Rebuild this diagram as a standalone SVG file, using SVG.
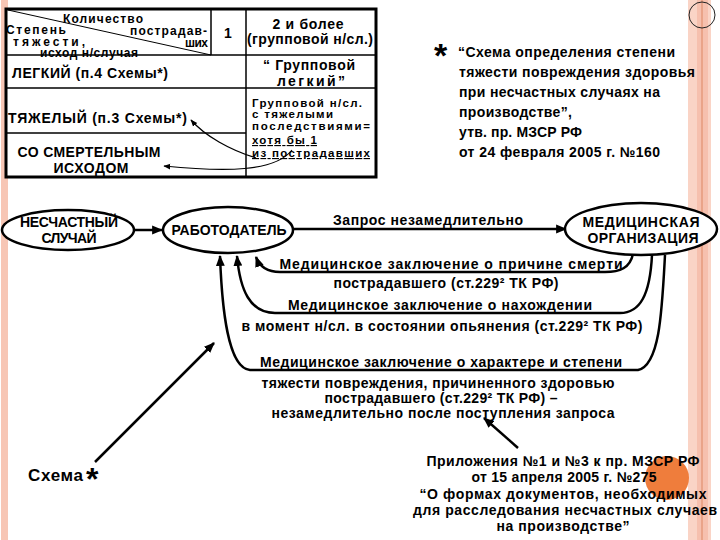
<svg xmlns="http://www.w3.org/2000/svg" width="720" height="540" viewBox="0 0 720 540">
<style>
.t{font-family:"Liberation Sans",Arial,sans-serif;font-weight:bold;fill:#000}
.h{font-size:12px}
.b{font-size:14px}
.s{font-size:11.5px}
.n{font-size:14px}
.l{font-size:14px}
.m{text-anchor:middle}
.ul{text-decoration:underline}
.grid{stroke:#000;stroke-width:1.5;fill:none}
.con{stroke:#000;stroke-width:2.5;fill:none}
.thin{stroke:#000;stroke-width:1.2;fill:none}
.node{fill:#fff;stroke:#000;stroke-width:2.5}
</style>
<defs>
<marker id="ah" viewBox="0 0 10 10" refX="9" refY="5" markerWidth="11" markerHeight="11" markerUnits="userSpaceOnUse" orient="auto"><path d="M0,1 L10,5 L0,9 z" fill="#000"/></marker>
<marker id="ahs" viewBox="0 0 10 10" refX="9" refY="5" markerWidth="7" markerHeight="7" markerUnits="userSpaceOnUse" orient="auto"><path d="M0,1 L10,5 L0,9 z" fill="#000"/></marker>
</defs>
<rect width="720" height="540" fill="#fff"/>
<g id="decor">
<rect x="1" y="0" width="7" height="540" fill="#f7c6b5"/>
<rect x="688" y="0" width="23" height="540" fill="#fad4c6"/>
<rect x="697" y="0" width="11" height="540" fill="#f6c0ae"/>
<line x1="702" y1="0" x2="702" y2="540" stroke="#e29070" stroke-width="1.2"/>
<circle cx="702" cy="15" r="13" fill="none" stroke="#222" stroke-width="1"/>
<circle cx="667" cy="478" r="22" fill="#ef7d3c"/>
</g>
<g id="table">
<rect x="6" y="9" width="370" height="168" fill="#fff" stroke="#000" stroke-width="3"/>
<line class="grid" x1="6" y1="55" x2="376" y2="55"/>
<line class="grid" x1="6" y1="88" x2="376" y2="88"/>
<line class="grid" x1="6" y1="133" x2="246" y2="133"/>
<line class="grid" x1="211" y1="9" x2="211" y2="55"/>
<line class="grid" x1="246" y1="9" x2="246" y2="177"/>
<line stroke="#000" stroke-width="1" x1="8" y1="10" x2="211" y2="55"/>
<text class="t h" x="63" y="23" textLength="80">Количество</text>
<text class="t h" x="6" y="34" textLength="60">Степень</text>
<text class="t h" x="130" y="35" textLength="77">пострадав-</text>
<text class="t h" x="13" y="46" textLength="72">тяжести,</text>
<text class="t h" x="185" y="47" textLength="23">ших</text>
<text class="t h" x="40" y="57" textLength="98">исход н/случая</text>
<text class="t" style="font-size:14px" x="228" y="38" text-anchor="middle">1</text>
<text class="t b m" x="308" y="29" textLength="71">2 и более</text>
<text class="t b m" x="310" y="44" textLength="126">(групповой н/сл.)</text>
<text class="t b" x="12" y="78" textLength="156">ЛЕГКИЙ (п.4 Схемы*)</text>
<text class="t b m" x="309" y="70" textLength="92">“ Групповой</text>
<text class="t b m" x="311" y="86" textLength="68">легкий”</text>
<text class="t b" x="8" y="123" textLength="179">ТЯЖЕЛЫЙ (п.3 Схемы*)</text>
<text class="t b m" x="89" y="157" textLength="143">СО СМЕРТЕЛЬНЫМ</text>
<text class="t b m" x="91" y="173" textLength="75">ИСХОДОМ</text>
<text class="t s" x="252" y="107" textLength="110">Групповой н/сл.</text>
<text class="t s" x="252" y="118" textLength="81">с тяжелыми</text>
<text class="t s" x="252" y="130" textLength="118">последствиями=</text>
<text class="t s ul" x="252" y="144" textLength="65">хотя бы 1</text>
<text class="t s ul" x="252" y="157" textLength="118">из пострадавших</text>
<path class="thin" d="M256,158 C230,150 205,136 191,120" marker-end="url(#ahs)"/>
<path class="thin" d="M292,150 C275,172 225,172 164,166" marker-end="url(#ahs)"/>
</g>
<g id="note">
<text class="t" style="font-size:34px" x="434" y="67">*</text>
<text class="t l" x="458" y="57" textLength="217">“Схема определения степени</text>
<text class="t l" x="459" y="77" textLength="236">тяжести повреждения здоровья</text>
<text class="t l" x="459" y="97" textLength="201">при несчастных случаях на</text>
<text class="t l" x="459" y="117" textLength="113">производстве”,</text>
<text class="t l" x="459" y="137" textLength="123">утв. пр. МЗСР РФ</text>
<text class="t l" x="459" y="157" textLength="201">от 24 февраля 2005 г. №160</text>
</g>
<g id="connectors">
<line class="con" x1="135" y1="230" x2="162" y2="230" marker-end="url(#ah)"/>
<line class="con" x1="293" y1="229" x2="566" y2="229" marker-end="url(#ah)"/>
<path class="con" d="M633,254 C630,268 620,272 605,272 L280,272 C266,272 259,265 256,257" marker-end="url(#ah)"/>
<path class="con" d="M652,255 C650,295 640,313 620,313 L275,313 C250,313 240,290 237,256" marker-end="url(#ah)"/>
<path class="con" d="M665,255 C662,310 660,365 638,370 L250,370 C228,368 222,310 220,256" marker-end="url(#ah)"/>
<line class="con" x1="95" y1="462" x2="214" y2="343" stroke-width="2" marker-end="url(#ah)"/>
<line class="con" x1="518" y1="448" x2="484" y2="418" marker-end="url(#ah)"/>
<text class="t l m" x="428" y="225" textLength="190">Запрос незамедлительно</text>
<text class="t l m" x="451" y="269" textLength="343">Медицинское заключение о причине смерти</text>
<text class="t l m" x="446" y="288" textLength="225">пострадавшего (ст.229² ТК РФ)</text>
<text class="t l m" x="440" y="310" textLength="304">Медицинское заключение о нахождении</text>
<text class="t l m" x="442" y="331" textLength="401">в момент н/сл. в состоянии опьянения (ст.229² ТК РФ)</text>
<text class="t l m" x="441" y="367" textLength="362">Медицинское заключение о характере и степени</text>
<text class="t l m" x="438" y="388" textLength="353">тяжести повреждения, причиненного здоровью</text>
<text class="t l m" x="441" y="403" textLength="233">пострадавшего (ст.229² ТК РФ) –</text>
<text class="t l m" x="443" y="418" textLength="343">незамедлительно после поступления запроса</text>
</g>
<g id="n-accident">
<ellipse class="node" cx="68" cy="230" rx="66" ry="20"/>
<text class="t n m" x="69" y="227" textLength="98">НЕСЧАСТНЫЙ</text>
<text class="t n m" x="69" y="243" textLength="55">СЛУЧАЙ</text>
</g>
<g id="n-employer">
<ellipse class="node" cx="228" cy="230" rx="65" ry="23"/>
<text class="t n m" x="229" y="235" textLength="115">РАБОТОДАТЕЛЬ</text>
</g>
<g id="n-medical">
<ellipse class="node" cx="641" cy="229" rx="76" ry="26"/>
<text class="t n m" x="641" y="227" textLength="117">МЕДИЦИНСКАЯ</text>
<text class="t n m" x="643" y="243" textLength="111">ОРГАНИЗАЦИЯ</text>
</g>
<g id="scheme">
<text class="t" style="font-size:17px" x="28" y="481" textLength="55">Схема</text>
<text class="t" style="font-size:32px" x="86" y="490">*</text>
</g>
<g id="appendix">
<text class="t l m" x="563" y="466" textLength="273">Приложения №1 и №3 к пр. МЗСР РФ</text>
<text class="t l m" x="564" y="482" textLength="185">от 15 апреля 2005 г. №275</text>
<text class="t l m" x="563" y="499" textLength="287">“О формах документов, необходимых</text>
<text class="t l m" x="565" y="515" textLength="304">для расследования несчастных случаев</text>
<text class="t l m" x="563" y="531" textLength="133">на производстве”</text>
</g>
</svg>
